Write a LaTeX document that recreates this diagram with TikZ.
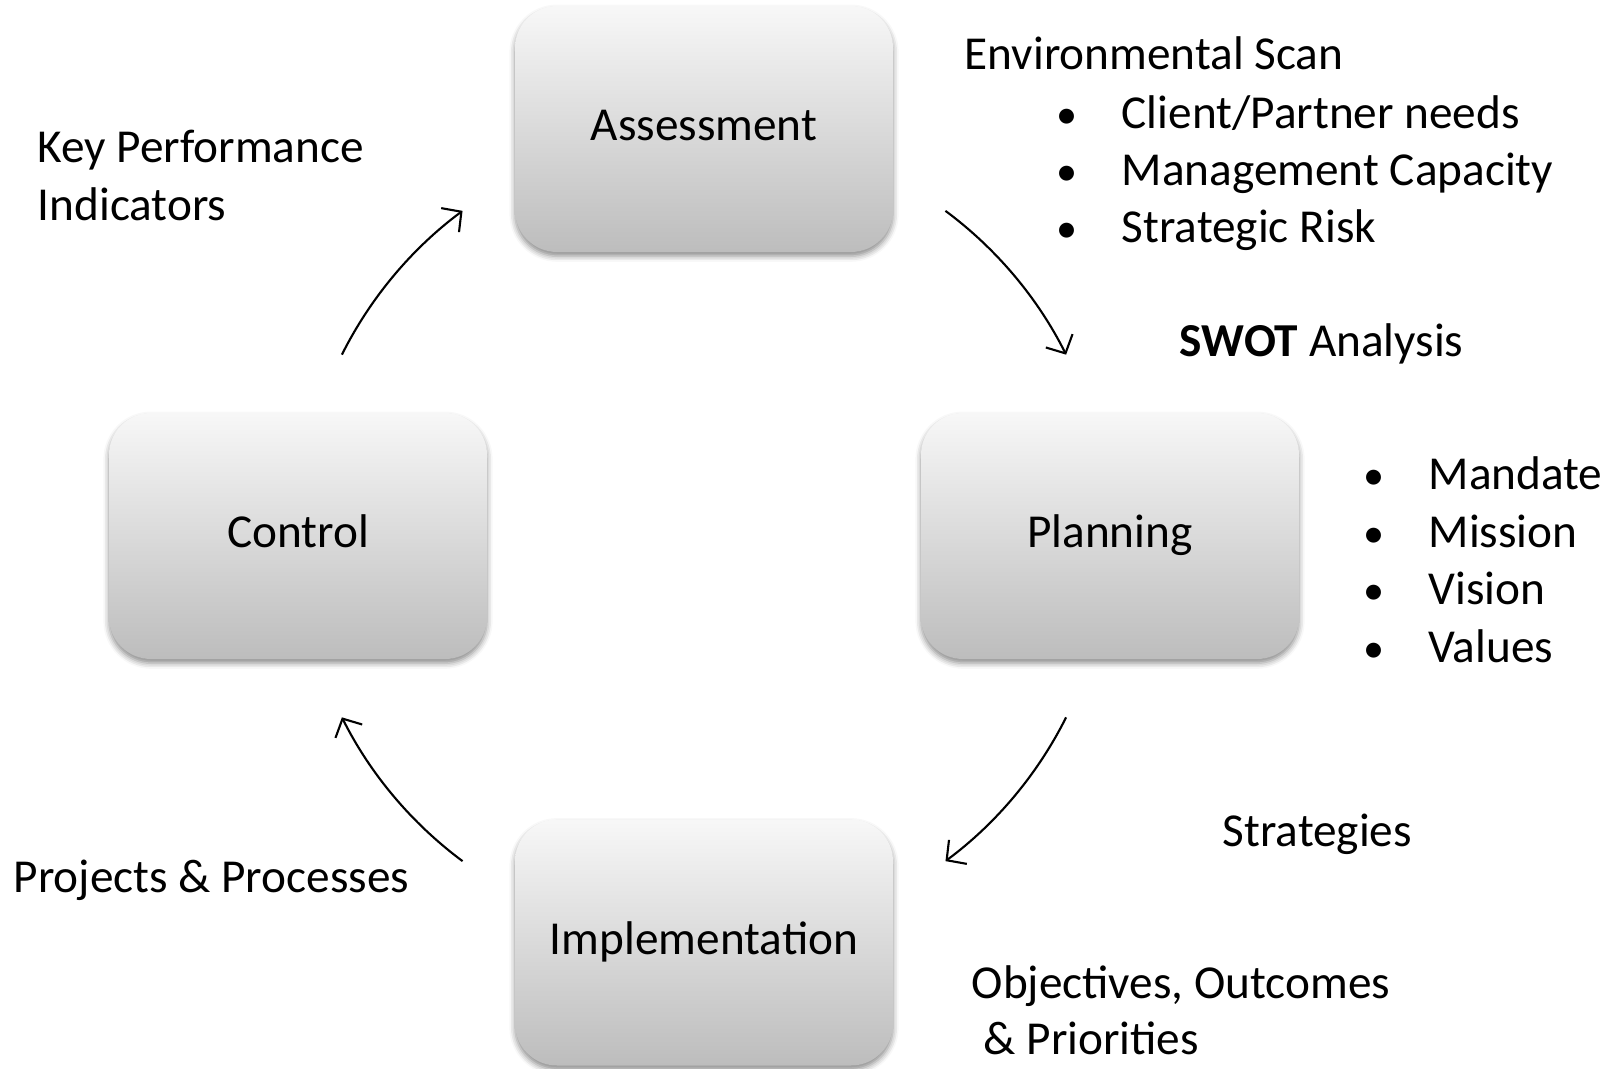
\documentclass[tikz,border=0pt]{standalone}
\usepackage{fontspec}
\setmainfont{Carlito}
\usetikzlibrary{arrows.meta,shadows.blur}
\tikzset{
  phase/.style={rectangle, rounded corners=4.2mm, minimum width=3.78cm,
    minimum height=2.46cm, top color=black!3, bottom color=black!26,
    text height=0.72em, text depth=0.05em,
    blur shadow={shadow xshift=0pt, shadow yshift=-1.2pt,
      shadow blur radius=1.6pt, shadow opacity=45}},
  note/.style={anchor=base west, inner sep=0pt},
  dot/.style={anchor=base, inner sep=0pt},
  cyc/.style={-{Straight Barb[length=4pt,width=8.5pt]}, line width=0.6pt}
}

\begin{document}
\begin{tikzpicture}[font=\fontsize{13.45}{16.3}\selectfont]
\useasboundingbox (0,0) rectangle (16.2,10.68);
\coordinate (hub) at (7.04,5.32);

% the four phases
\node[phase] (assess) at (7.04,9.39) {Assessment};
\node[phase] (control) at (2.98,5.32) {Control};
\node[phase] (plan) at (11.10,5.32) {Planning};
\node[phase] (impl) at (7.04,1.255) {Implementation};

% cycle arrows, clockwise round the hub
\foreach \a in {153.4,53.4,-26.6,-126.6}
  \draw[cyc] ([shift={(\a:4.05)}]hub) arc[start angle=\a, delta angle=-26.8, radius=4.05];

% side notes
\node[note] (kpi1) at (0.37,9.05) {Key Performance};
\node[note] (kpi2) at (0.37,8.47) {Indicators};
\node[note] (scan) at (9.64,9.98) {Environmental Scan};
\foreach \t [count=\i] in {{Client/Partner needs},{Management Capacity},{Strategic Risk}} {
  \node[dot] (scandot\i) at (10.67,9.96-0.57*\i) {\large•};
  \node[note] (scanitem\i) at (11.21,9.96-0.57*\i) {\t};
}
\node[note] (swot) at (11.79,7.11) {\textbf{SWOT} Analysis};
\foreach \t [count=\i] in {Mandate,Mission,Vision,Values} {
  \node[dot] (plandot\i) at (13.74,6.355-0.575*\i) {\large•};
  \node[note] (planitem\i) at (14.28,6.355-0.575*\i) {\t};
}
\node[note] (strat) at (12.22,2.21) {Strategies};
\node[note] (obj1) at (9.71,0.70) {Objectives, Outcomes};
\node[note] (obj2) at (9.83,0.14) {\& Priorities};
\node[note] (proj) at (0.13,1.76) {Projects \& Processes};
\end{tikzpicture}
\end{document}
